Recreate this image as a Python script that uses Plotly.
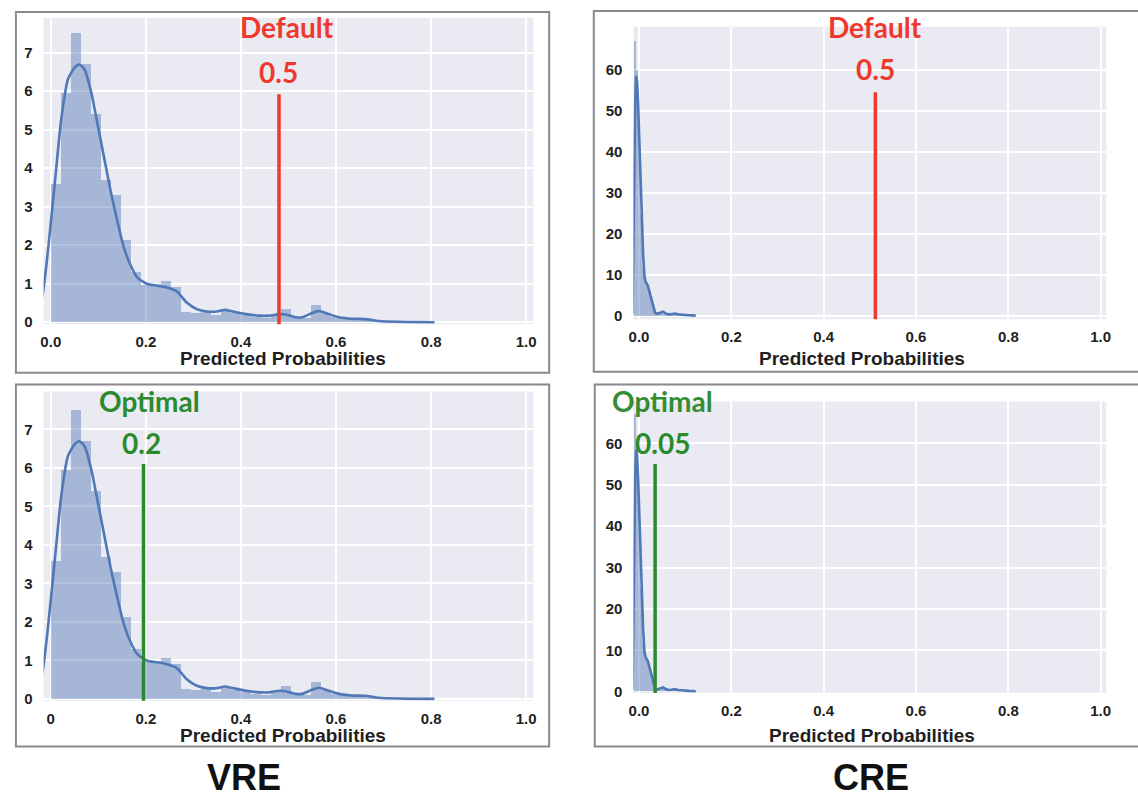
import plotly.graph_objects as go

W, H = 1138, 800

# ---------------- data ----------------
# VRE: density histogram (equal-width bins) + KDE
vre_bin_start = 0.0
vre_bin_width = 0.021
vre_heights = [3.6, 5.95, 7.5, 6.7, 5.4, 3.7, 3.3, 2.15, 1.3, 0.98, 0.95, 1.07, 0.93,
               0.28, 0.25, 0.28, 0.18, 0.32, 0.25, 0.18, 0.15, 0.12, 0.2, 0.35, 0.15,
               0.12, 0.45, 0.25, 0.15, 0.1, 0.08, 0.12, 0.06, 0.03]
vre_kde_x = [-0.02, -0.016, -0.006, 0.008, 0.022, 0.036, 0.05, 0.06, 0.071, 0.085, 0.099,
             0.1125, 0.126, 0.14, 0.154, 0.168, 0.182, 0.203, 0.224, 0.244, 0.265, 0.286,
             0.307, 0.328, 0.349, 0.366, 0.383, 0.411, 0.439, 0.46, 0.48, 0.494, 0.515,
             0.529, 0.55, 0.564, 0.585, 0.606, 0.633, 0.661, 0.689, 0.73, 0.807]
vre_kde_y = [0.55, 0.8, 1.85, 3.55, 5.27, 6.3, 6.61, 6.69, 6.56, 5.97, 5.1,
             4.25, 3.4, 2.62, 1.93, 1.47, 1.16, 0.99, 0.95, 0.9, 0.8, 0.51,
             0.34, 0.28, 0.28, 0.32, 0.28, 0.21, 0.17, 0.17, 0.21, 0.2, 0.13,
             0.13, 0.24, 0.29, 0.21, 0.13, 0.09, 0.08, 0.03, 0.01, 0.0]

# CRE: density histogram + KDE
cre_bin_start = -0.01
cre_bin_width = 0.0045
cre_heights = [67, 60, 44, 25, 12, 9, 8, 6, 3.5, 1.5, 0.8, 0.7, 1.0, 0.9, 0.5, 0.6,
               0.5, 0.4, 0.5, 0.35, 0.3, 0.3, 0.25, 0.2, 0.2, 0.15, 0.15, 0.1, 0.1, 0.1]
cre_kde_x = [-0.014, -0.012, -0.01, -0.008, -0.006, -0.004, -0.002, 0.0, 0.003, 0.006,
             0.009, 0.012, 0.015, 0.019, 0.023, 0.027, 0.031, 0.035, 0.04, 0.046, 0.052,
             0.058, 0.064, 0.07, 0.078, 0.085, 0.092, 0.1, 0.108, 0.116, 0.123]
cre_kde_y = [0.5, 20, 40, 53, 58.5, 57, 52, 45, 35, 24,
             15, 9.5, 8.2, 7.5, 5.8, 3.8, 1.8, 0.8, 0.6, 0.9, 1.1,
             0.7, 0.45, 0.5, 0.65, 0.45, 0.35, 0.35, 0.25, 0.2, 0.15]

# thresholds drawn as vertical lines: (value, line top)
vre_default_thr, vre_default_top = 0.48, 5.92
vre_opt_thr, vre_opt_top = 0.195, 6.1
cre_default_thr, cre_default_top = 0.512, 54.5
cre_opt_thr, cre_opt_top = 0.035, 55.0

x_tickvals = [0, 0.2, 0.4, 0.6, 0.8, 1.0]
x_ticktext_a = ["0.0", "0.2", "0.4", "0.6", "0.8", "1.0"]
x_ticktext_b = ["0", "0.2", "0.4", "0.6", "0.8", "1.0"]
vre_y_ticks = [0, 1, 2, 3, 4, 5, 6, 7]
cre_y_ticks = [0, 10, 20, 30, 40, 50, 60]

# ---------------- style ----------------
BAR = "rgba(76,114,176,0.43)"
KDE = "#5078B6"
RED = "#F0392E"
GREEN = "#2A8A2C"
BG = "#EAEAF2"
TXT = "#1f1f1f"


def px_x(p):
    return p / W


def px_y(p):
    return 1 - p / H


fig = go.Figure()

panels = [
    ("", vre_bin_start, vre_bin_width, vre_heights, vre_kde_x, vre_kde_y,
     vre_default_thr, vre_default_top, RED, True),
    ("2", cre_bin_start, cre_bin_width, cre_heights, cre_kde_x, cre_kde_y,
     cre_default_thr, cre_default_top, RED, False),
    ("3", vre_bin_start, vre_bin_width, vre_heights, vre_kde_x, vre_kde_y,
     vre_opt_thr, vre_opt_top, GREEN, True),
    ("4", cre_bin_start, cre_bin_width, cre_heights, cre_kde_x, cre_kde_y,
     cre_opt_thr, cre_opt_top, GREEN, False),
]

for suf, b0, bw, hs, kx, ky, thr, top, col, spl in panels:
    xa, ya = "x" + suf, "y" + suf
    centers = [b0 + (i + 0.5) * bw for i in range(len(hs))]
    fig.add_trace(go.Bar(x=centers, y=hs, width=[bw] * len(hs),
                         marker=dict(color=BAR, line=dict(width=0)),
                         xaxis=xa, yaxis=ya, showlegend=False, hoverinfo="skip"))
    fig.add_trace(go.Scatter(x=kx, y=ky, mode="lines",
                             line=dict(color=KDE, width=2.6,
                                       shape="spline" if spl else "linear",
                                       smoothing=0.6 if spl else 0),
                             xaxis=xa, yaxis=ya, showlegend=False, hoverinfo="skip"))
    fig.add_trace(go.Scatter(x=[thr, thr], y=[-1, top], mode="lines",
                             line=dict(color=col, width=3.5),
                             xaxis=xa, yaxis=ya, showlegend=False, hoverinfo="skip"))

tickfont = dict(family="Liberation Sans", size=15, color=TXT, weight="bold")


def xaxis(domain, rng, ticktext, anchor):
    return dict(domain=domain, range=rng, tickvals=x_tickvals, ticktext=ticktext,
                anchor=anchor,
                showgrid=True, gridcolor="white", gridwidth=1.5, zeroline=False,
                showline=False, ticks="outside", ticklen=4, tickcolor="rgba(0,0,0,0)",
                tickfont=tickfont, fixedrange=True)


def yaxis(domain, rng, tickvals, anchor):
    return dict(domain=domain, range=rng, tickvals=tickvals, anchor=anchor,
                showgrid=True, gridcolor="white", gridwidth=1.5, zeroline=False,
                showline=False, ticks="outside", ticklen=7, tickcolor="rgba(0,0,0,0)",
                tickfont=tickfont, fixedrange=True)


left_dom = [px_x(39), px_x(533)]
right_dom = [px_x(634), px_x(1111)]

fig.update_layout(
    width=W, height=H, margin=dict(l=0, r=0, t=0, b=0),
    paper_bgcolor="white", plot_bgcolor=BG,
    barmode="overlay", bargap=0, showlegend=False,
    xaxis=xaxis(left_dom, [-0.015, 1.015], x_ticktext_a, "y"),
    yaxis=yaxis([px_y(327), px_y(18)], [-0.05, 7.9], vre_y_ticks, "x"),
    xaxis2=xaxis(right_dom, [-0.012, 1.012], x_ticktext_a, "y2"),
    yaxis2=yaxis([px_y(322), px_y(27)], [-0.72, 70.4], cre_y_ticks, "x2"),
    xaxis3=xaxis(left_dom, [-0.015, 1.015], x_ticktext_b, "y3"),
    yaxis3=yaxis([px_y(707), px_y(395)], [-0.05, 7.98], vre_y_ticks, "x3"),
    xaxis4=xaxis(right_dom, [-0.012, 1.012], x_ticktext_a, "y4"),
    yaxis4=yaxis([px_y(699), px_y(405)], [-0.24, 70.1], cre_y_ticks, "x4"),
)

# panel frames
frame = dict(color="#8a8a8a", width=2)
for x0, x1, y0, y1 in [(11, 549, 12, 376), (594, 1150, 11, 375),
                       (11, 549, 388, 753), (595, 1150, 388, 753)]:
    fig.add_shape(type="rect", xref="paper", yref="paper",
                  x0=px_x(x0), x1=px_x(x1), y0=px_y(y1), y1=px_y(y0),
                  line=frame, fillcolor="rgba(0,0,0,0)", layer="below")


def ann_font(c):
    return dict(family="Lato", size=28, color=c, weight="bold")


# threshold labels (x tied to threshold via axis, small pixel shifts)
labels = [
    ("x", "Default", vre_default_thr, 8, 27, RED),
    ("x", "0.5", vre_default_thr, 0, 73, RED),
    ("x2", "Default", cre_default_thr, 0, 27, RED),
    ("x2", "0.5", cre_default_thr, 0, 70, RED),
    ("x3", "Optimal", vre_opt_thr, 6, 405, GREEN),
    ("x3", "0.2", vre_opt_thr, -2, 447, GREEN),
    ("x4", "Optimal", cre_opt_thr, 7, 405, "#348C34"),
    ("x4", "0.05", cre_opt_thr, 7, 447, GREEN),
]
for xr, txt, xv, sh, py, c in labels:
    fig.add_annotation(x=xv, xref=xr, y=px_y(py), yref="paper", text=txt,
                       showarrow=False, xshift=sh, xanchor="center", yanchor="middle",
                       font=ann_font(c))

title_font = dict(family="Liberation Sans", size=19, color=TXT, weight="bold")
for px, py in [(280, 362), (865, 362), (280, 742), (875, 742)]:
    fig.add_annotation(x=px_x(px), y=px_y(py), xref="paper", yref="paper",
                       text="Predicted Probabilities", showarrow=False,
                       xanchor="center", yanchor="middle", font=title_font)

big_font = dict(family="Liberation Sans", size=36, color="#111111", weight="bold")
for txt, px in [("VRE", 241), ("CRE", 874)]:
    fig.add_annotation(x=px_x(px), y=px_y(784), xref="paper", yref="paper",
                       text=txt, showarrow=False, xanchor="center", yanchor="middle",
                       font=big_font)

fig.write_html("out.html",
               config={"displayModeBar": False},
               post_script="document.body.style.margin='0px';"
                           "document.body.style.overflow='hidden';")
